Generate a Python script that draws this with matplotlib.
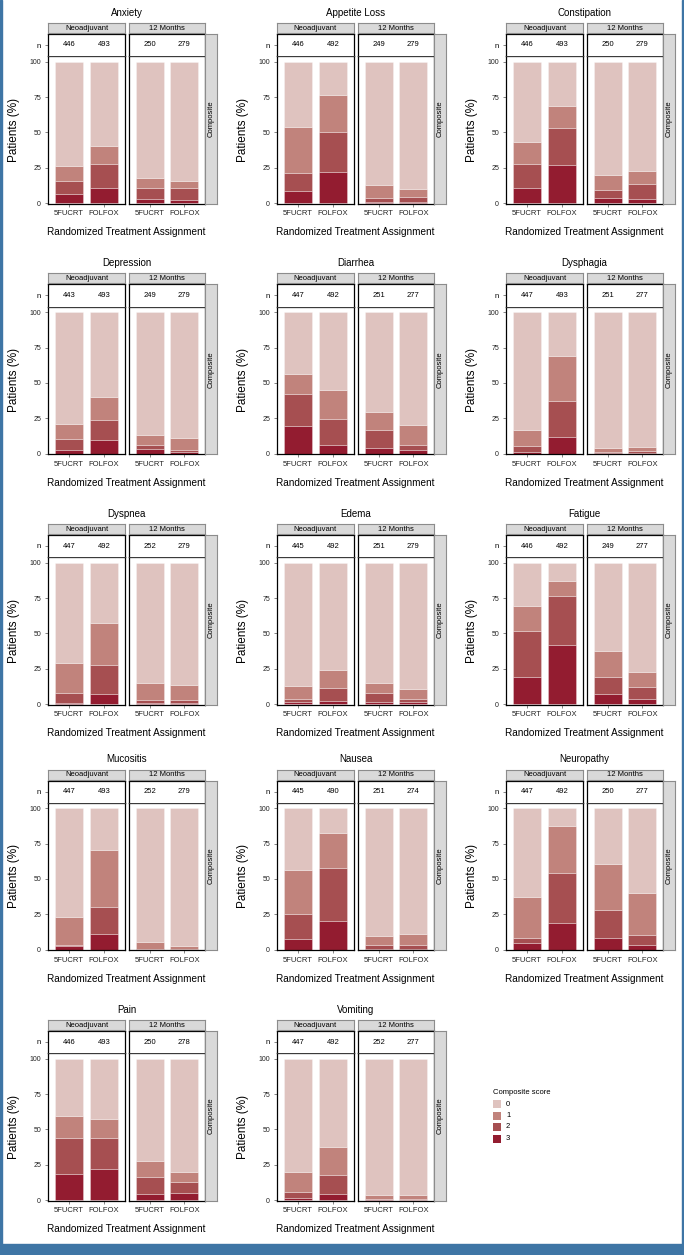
import matplotlib
matplotlib.use("Agg")
import matplotlib.pyplot as plt
import numpy as np

plt.rcParams['font.family'] = ['Liberation Sans', 'DejaVu Sans']

symptoms = ["Anxiety", "Appetite Loss", "Constipation",
            "Depression", "Diarrhea", "Dysphagia",
            "Dyspnea", "Edema", "Fatigue",
            "Mucositis", "Nausea", "Neuropathy",
            "Pain", "Vomiting"]

timepoints = ["Neoadjuvant", "12 Months"]
arms = ["5FUCRT", "FOLFOX"]

# order per symptom: Neo 5FUCRT, Neo FOLFOX, 12M 5FUCRT, 12M FOLFOX
n_counts = [
    [446, 493, 250, 279],
    [446, 492, 249, 279],
    [446, 493, 250, 279],
    [443, 493, 249, 279],
    [447, 492, 251, 277],
    [447, 493, 251, 277],
    [447, 492, 252, 279],
    [445, 492, 251, 279],
    [446, 492, 249, 277],
    [447, 493, 252, 279],
    [445, 490, 251, 274],
    [447, 492, 250, 277],
    [446, 493, 250, 278],
    [447, 492, 252, 277],
]

# cumulative % of patients with composite score >= k
pct_ge1 = [
    [26.2, 40.6, 17.7, 15.8],
    [54.0, 76.4, 12.7, 10.1],
    [42.9, 68.6, 19.6, 22.9],
    [21.0, 40.3, 13.4, 10.8],
    [56.6, 44.8, 29.2, 20.3],
    [16.5, 68.9, 4.2, 4.7],
    [28.8, 57.1, 14.9, 13.2],
    [13.0, 23.8, 14.9, 10.4],
    [69.8, 87.3, 37.5, 22.6],
    [22.9, 70.5, 5.0, 2.8],
    [56.6, 82.5, 9.7, 10.8],
    [37.0, 87.5, 60.8, 40.3],
    [59.7, 57.3, 27.8, 19.6],
    [19.6, 37.7, 3.8, 3.3],
]
pct_ge2 = [
    [15.6, 27.4, 10.4, 10.4],
    [21.5, 50.2, 3.8, 4.5],
    [27.4, 53.5, 9.0, 13.2],
    [10.1, 24.0, 5.9, 2.8],
    [42.5, 24.5, 17.0, 5.9],
    [5.2, 37.0, 1.0, 1.5],
    [7.8, 27.4, 2.8, 2.8],
    [3.8, 11.3, 7.5, 3.8],
    [51.4, 76.4, 18.9, 12.0],
    [3.5, 30.2, 0.5, 0.3],
    [25.2, 58.0, 3.1, 3.5],
    [8.0, 54.5, 27.8, 10.6],
    [44.1, 43.9, 16.5, 13.0],
    [5.9, 17.5, 0.7, 0.7],
]
pct_ge3 = [
    [6.4, 10.8, 2.6, 2.4],
    [8.5, 21.7, 1.0, 1.0],
    [10.6, 26.9, 3.8, 2.8],
    [2.8, 9.9, 3.0, 1.2],
    [19.3, 6.1, 4.2, 2.4],
    [1.2, 12.0, 0.5, 0.5],
    [0.7, 7.1, 0.5, 0.5],
    [1.7, 2.1, 1.2, 1.2],
    [19.3, 41.7, 6.8, 3.3],
    [2.4, 11.1, 0.2, 0.0],
    [7.1, 20.5, 0.7, 0.7],
    [4.7, 18.9, 8.3, 3.1],
    [18.2, 22.2, 4.0, 5.0],
    [1.7, 4.0, 0.5, 0.3],
]

score_labels = ["0", "1", "2", "3"]
score_colors = ["#dfc3bf", "#c1837c", "#a64f51", "#931c30"]

W, H = 684, 1255
fig = plt.figure(figsize=(W / 100, H / 100), dpi=100)
fig.patch.set_facecolor("white")


def px_axes(x0, y0, x1, y1):
    return fig.add_axes([x0 / W, 1 - y1 / H, (x1 - x0) / W, (y1 - y0) / H])


def px_text(x, y, s, **kw):
    fig.text(x / W, 1 - y / H, s, **kw)


col_off = [0, 229, 458]
row_y100 = [62, 312.5, 563, 808.5, 1059]
facet_x = [(48, 125), (129, 205)]
strip_col = "#d9d9d9"
strip_edge = "#8c8c8c"

for i, name in enumerate(symptoms):
    r, c = divmod(i, 3)
    ox = col_off[c]
    y100 = row_y100[r]
    top, bot = y100 - 6, y100 + 141.5

    ge1 = np.array(pct_ge1[i])
    ge2 = np.array(pct_ge2[i])
    ge3 = np.array(pct_ge3[i])
    segs = [100 - ge1, ge1 - ge2, ge2 - ge3, ge3]  # score 0, 1, 2, 3
    bases = [ge1, ge2, ge3, np.zeros(4)]

    for f, tp in enumerate(timepoints):
        x0, x1 = ox + facet_x[f][0], ox + facet_x[f][1]
        ax = px_axes(x0, top, x1, bot)
        xs = np.arange(1, 3)
        for k in range(3, -1, -1):
            ax.bar(xs, segs[k][2 * f:2 * f + 2], bottom=bases[k][2 * f:2 * f + 2],
                   width=0.8, color=score_colors[k], edgecolor=(1, 1, 1, 0.5),
                   linewidth=0.4)
        ax.set_xlim(0.4, 2.6)
        ax.set_ylim(-0.35, 104.2)
        ax.set_xticks(xs)
        ax.set_xticklabels(arms, fontsize=5.5, color="#222222")
        ax.tick_params(length=2, width=0.5, color="#555555", pad=3)
        for sp in ax.spines.values():
            sp.set_linewidth(0.9)
            sp.set_color("black")
        if f == 0:
            ax.set_yticks([0, 25, 50, 75, 100])
            ax.set_yticklabels(["0", "25", "50", "75", "100"], fontsize=5, color="#222222")
            ax.set_ylabel("Patients (%)", fontsize=8.5, labelpad=7)
        else:
            ax.set_yticks([])

        # n row
        axn = px_axes(x0, y100 - 28, x1, top)
        axn.set_xlim(0.4, 2.6)
        axn.set_ylim(0, 1)
        axn.set_xticks([])
        for k in range(2):
            axn.text(k + 1, 0.5, str(n_counts[i][2 * f + k]), ha="center",
                     va="center", fontsize=5.5)
        if f == 0:
            axn.set_yticks([0.5])
            axn.set_yticklabels(["n"], fontsize=5.5)
            axn.tick_params(axis="y", length=2, width=0.5, color="#555555", pad=3)
        else:
            axn.set_yticks([])
        for sp in axn.spines.values():
            sp.set_linewidth(0.9)
            sp.set_color("black")
        axn.spines["bottom"].set_linewidth(0.5)
        axn.spines["bottom"].set_color("#555555")

        # strip header
        axs = px_axes(x0, y100 - 39, x1, y100 - 29)
        axs.set_facecolor(strip_col)
        axs.set_xticks([])
        axs.set_yticks([])
        for sp in axs.spines.values():
            sp.set_color(strip_edge)
            sp.set_linewidth(0.8)
        axs.text(0.5, 0.45, tp, ha="center", va="center", fontsize=5.5,
                 transform=axs.transAxes)

    # composite strip on right
    sx0 = ox + facet_x[1][1]
    axc = px_axes(sx0, y100 - 28, sx0 + 12, bot)
    axc.set_facecolor(strip_col)
    axc.set_xticks([])
    axc.set_yticks([])
    for sp in axc.spines.values():
        sp.set_color(strip_edge)
        sp.set_linewidth(0.8)
    axc.text(0.5, 0.5, "Composite", rotation=90, ha="center", va="center",
             fontsize=5.5, transform=axc.transAxes)

    cx = ox + (facet_x[0][0] + facet_x[1][1]) / 2
    px_text(cx, y100 - 49, name, ha="center", va="center", fontsize=7)
    px_text(cx, y100 + 170, "Randomized Treatment Assignment", ha="center",
            va="center", fontsize=7.2)

# legend
lx, ly = 493, 1092
px_text(lx, ly, "Composite score", ha="left", va="center", fontsize=5.5)
for k, (lab, col) in enumerate(zip(score_labels, score_colors)):
    yy = ly + 12 + 11.5 * k
    sq = px_axes(lx, yy - 4, lx + 8, yy + 4)
    sq.set_facecolor(col)
    sq.set_xticks([])
    sq.set_yticks([])
    for sp in sq.spines.values():
        sp.set_visible(False)
    px_text(lx + 13, yy, lab, ha="left", va="center", fontsize=5.5)

# blue frame
frame_col = "#3e75a5"
fig.add_artist(plt.Rectangle((0, 0), 2 / W, 1, transform=fig.transFigure,
                             color=frame_col, zorder=10))
fig.add_artist(plt.Rectangle((1 - 2 / W, 0), 2 / W, 1, transform=fig.transFigure,
                             color=frame_col, zorder=10))
fig.add_artist(plt.Rectangle((0, 0), 1, 11 / H, transform=fig.transFigure,
                             color=frame_col, zorder=10))

fig.savefig("out.png", dpi=100)
